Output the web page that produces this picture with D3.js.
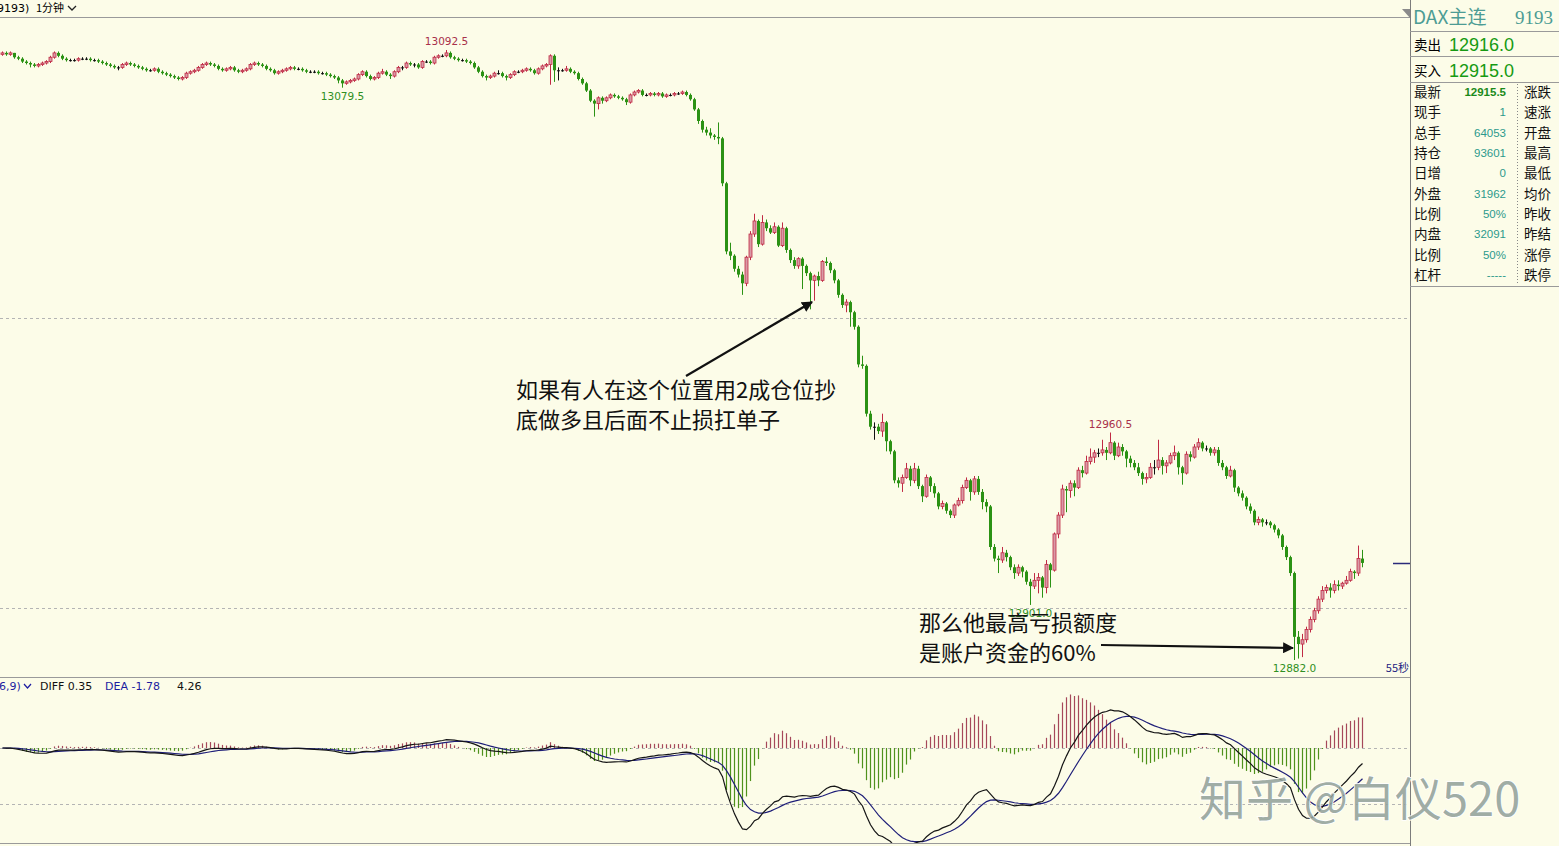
<!DOCTYPE html>
<html>
<head>
<meta charset="utf-8">
<script src="https://cdn.jsdelivr.net/npm/d3@7"></script>
<style>
body { margin: 0; background: #fcfce8; overflow: hidden; }
svg { display: block; font-family: "Noto Sans CJK SC", "DejaVu Sans", sans-serif; }
</style>
</head>
<body>
<div id="chart"></div>
<script>
// ---- data ----
var firstOpen = 13091;

var closes = [
 13091.5,13091,13091.5,13090,13089.5,13088.5,13088,13087.5,13087,13087.5,
 13088,13088.5,13090,13091.5,13090.5,13089.5,13089,13089,13089,13089.5,
 13089.5,13089.5,13089,13089,13088.5,13088,13087.5,13087,13086.5,13086.5,
 13087.5,13088,13087.5,13087,13086.5,13086,13085.5,13085.5,13086,13085,
 13084.5,13084,13083.5,13083,13082.5,13083,13084.5,13085,13085.5,13086.5,
 13087.5,13088,13087.5,13087,13086,13085.5,13086,13086.5,13085.5,13085,
 13085.5,13086,13087.5,13088,13087.5,13087,13086,13085.5,13084.5,13085,
 13085.5,13086,13086.5,13086,13086,13085.5,13085,13085,13085,13084.5,
 13084.5,13084,13083.5,13083,13082,13081,13081.5,13082,13082.5,13084,
 13085,13083.5,13082.5,13083,13084.5,13085,13084,13083.5,13085,13086.5,
 13086.5,13088,13087.5,13087.5,13086.5,13088.5,13088.5,13088,13090,13090.5,
 13090.5,13091.5,13090,13089.5,13089,13089,13088.5,13088,13086.5,13085,
 13083.5,13083,13083.5,13084.5,13084.5,13083.5,13083,13084,13085,13085,
 13085.5,13086,13085.5,13084.5,13086,13087,13087.5,13090.5,13085.5,13085.5,
 13085.5,13086,13085,13084.5,13082.5,13081,13078.5,13075,13074,13076,
 13075,13076,13077,13076.5,13076,13075.5,13074.5,13077,13078,13078.5,
 13077,13077,13077.5,13077,13077.5,13076.5,13077,13077,13077.5,13077.5,
 13078,13077,13075.5,13072,13068,13065,13064,13063,13062.5,13062,
 13046.5,13023,13021.5,13017,13015,13012,13021,13029,13033.5,13025.5,
 13033,13031,13029.5,13031.5,13025,13031,13023.5,13020,13018,13020.5,
 13018,13015.5,13013,13014.5,13013,13019.5,13019,13016.5,13013,13008,
 13004.5,13005.5,13002,12997,12984,12983.5,12967,12962.5,12962.5,12961,
 12964,12957.5,12954,12944,12943,12945,12948,12944,12948,12942,
 12938.5,12945,12942,12939.5,12935,12936,12933.5,12932,12935.5,12937,
 12941.5,12944,12940,12944.5,12940,12936.5,12935,12921,12917,12916.5,
 12919,12917.5,12914,12912,12914,12912.5,12909,12907.5,12909.5,12910.5,
 12907,12915,12913,12925.5,12932,12941,12940.5,12943,12941.5,12947.5,
 12946.5,12950.5,12952,12953.5,12953.5,12954.5,12953.5,12957,12952.5,12955.5,
 12954,12951.5,12950,12948.5,12946.5,12944.5,12945,12948.5,12948.5,12951,
 12949,12950,12952.5,12953.5,12948.5,12946.5,12953,12952,12955.5,12957,
 12955,12955,12953.5,12954.5,12950,12948.5,12945.5,12947.5,12941.5,12939.5,
 12938,12935,12933.5,12929.5,12930.5,12929.5,12929.5,12928.5,12927,12925,
 12921,12917.5,12912,12890,12887.5,12889,12892.5,12896,12899,12903,
 12906,12907,12906,12908,12907.5,12908.5,12909.5,12912.5,12912,12917,12915.5
];

var highs = [
 13092,13092,13092,13091.5,13090.5,13090,13089,13088.5,13088,13088,
 13088.5,13089,13090.5,13092,13092,13091,13090,13089.5,13089.5,13090,
 13090,13090,13090,13089.5,13089.5,13089,13088.5,13088,13087.5,13087,
 13088,13088.5,13088.5,13088,13087.5,13087,13086.5,13086,13086.5,13086.5,
 13085.5,13085,13084.5,13084,13083.5,13083.5,13085,13085.5,13086,13087,
 13088,13088.5,13088.5,13088,13087.5,13086.5,13086.5,13087,13087,13086,
 13086,13086.5,13088,13088.5,13088.5,13088,13087.5,13086.5,13086,13085.5,
 13086,13086.5,13087,13087,13086.5,13086.5,13086,13085.5,13085.5,13085.5,
 13085,13085,13084.5,13084,13083.5,13082.5,13082,13082.5,13083,13084.5,
 13085.5,13085.5,13084,13083.5,13085,13086,13085.5,13084.5,13085.5,13087,
 13087,13088.5,13088.5,13088,13088,13089,13089,13089,13090.5,13091,
 13091,13092.5,13092,13090.5,13090,13089.5,13089.5,13089,13088.5,13087,
 13085.5,13084,13084,13085,13085.5,13085,13084,13084.5,13085.5,13085.5,
 13086,13086.5,13086.5,13086,13086.5,13087.5,13088,13091,13091,13086.5,
 13086,13087,13086.5,13085.5,13085,13083,13081.5,13079,13075.5,13076.5,
 13076.5,13076.5,13077.5,13077.5,13077,13076.5,13076,13077.5,13078.5,13079,
 13079,13077.5,13078,13078,13078,13078,13077.5,13077.5,13078,13078,
 13078.5,13078.5,13077.5,13076,13072.5,13068.5,13066,13065.5,13063.5,13067.5,
 13062.5,13047,13026,13022,13018,13016,13021.5,13030,13036,13034,
 13035.5,13034,13032,13033,13032,13033,13031.5,13024,13021,13021,
 13021,13018.5,13016,13015,13016,13020,13021,13019.5,13017,13013.5,
 13008.5,13006.5,13006,13002.5,12997.5,12987,12984,12968,12964,12963.5,
 12967,12964.5,12958,12954.5,12945,12946,12950,12949,12950,12949,
 12942.5,12946,12945.5,12943,12940,12937,12936.5,12934,12936,12938,
 12942.5,12945,12944.5,12945.5,12945.5,12941,12937.5,12935.5,12922,12918,
 12921,12920,12918,12915,12915,12914.5,12913,12910,12912,12912,
 12911,12916.5,12915.5,12926,12933,12942.5,12942,12944,12944,12948.5,
 12949,12952.5,12955,12954.5,12955,12958,12955.5,12960.5,12957.5,12957,
 12956.5,12954.5,12952.5,12951,12950,12947,12946.5,12950,12951,12958,
 12952,12951,12953.5,12956,12954,12949,12954,12954,12956.5,12958.5,
 12957.5,12956,12955.5,12955.5,12955.5,12951,12949,12949,12948,12942,
 12940.5,12938.5,12936,12934,12931.5,12931,12930.5,12930,12929,12927.5,
 12925.5,12921.5,12918,12912.5,12892,12891,12893.5,12897,12900,12904,
 12907.5,12908,12908.5,12909.5,12909.5,12909,12911,12913.5,12913,12921.5,12920
];

var lows = [
 13090.5,13090.5,13090.5,13089.5,13089,13088,13087.5,13086.5,13086.5,13086.5,
 13087,13087.5,13088,13089.5,13090,13089,13088.5,13088.5,13088.5,13088.5,
 13089,13089,13088.5,13088.5,13088,13087.5,13087,13086.5,13086,13085.5,
 13086,13087,13087,13086.5,13086,13085.5,13085,13085,13085,13084.5,
 13084,13083.5,13083,13082.5,13082,13082,13082.5,13084,13084.5,13085,
 13086,13087,13087,13086.5,13085.5,13085,13085,13085.5,13085,13084.5,
 13084.5,13085,13085.5,13087,13087,13086.5,13085.5,13085,13084,13084,
 13084.5,13085,13085.5,13085.5,13085.5,13085,13084.5,13084.5,13084.5,13084,
 13084,13083.5,13083,13082.5,13081,13079.5,13080.5,13081,13081.5,13082,
 13083.5,13083,13082,13082,13082.5,13084,13083.5,13082.5,13083,13084.5,
 13085.5,13086,13087,13086.5,13086,13086,13088,13087.5,13087.5,13089.5,
 13090,13090,13089.5,13089,13088.5,13088.5,13088,13087.5,13086,13084.5,
 13083,13082,13082.5,13083,13084,13083,13082,13082.5,13083.5,13084.5,
 13084.5,13085,13085,13084,13084,13085.5,13086.5,13080.5,13081.5,13082,
 13085,13085,13084.5,13084,13082,13080.5,13078,13074.5,13069.5,13072,
 13074,13074.5,13075.5,13076,13075.5,13075,13073.5,13074,13076.5,13077.5,
 13076.5,13076.5,13076.5,13076.5,13076.5,13076,13076,13076.5,13076.5,13077,
 13077,13076.5,13075,13071.5,13067,13064,13063,13062,13061.5,13060,
 13045.5,13022,13020,13016,13014,13008,13011,13020,13028,13024.5,
 13025,13030,13029,13029,13024.5,13024.5,13022.5,13019,13017,13017,
 13010,13014.5,13003,13006,13011,13012.5,13018,13015.5,13012,13007,
 13003.5,13002,12997,12996,12983,12982.5,12966,12961.5,12958,12960,
 12959,12954,12953,12943,12941.5,12940,12944.5,12942,12943,12941,
 12936.5,12938,12940,12938,12934,12934,12932.5,12931,12931,12935,
 12936,12941,12937,12939,12939,12934,12933,12920,12916,12912,
 12915.5,12916,12913,12910,12911,12910.5,12908,12901,12906.5,12905,
 12903.5,12905,12907,12912.5,12924,12931,12933,12938,12938.5,12941,
 12945,12946,12949.5,12950,12952,12952.5,12951,12953,12951,12952,
 12952.5,12948.5,12948.5,12947.5,12945.5,12942.5,12943,12944.5,12946,12947.5,
 12946,12946.5,12949.5,12951,12946,12942.5,12946,12950.5,12951.5,12954.5,
 12954,12954,12952.5,12952.5,12949,12947.5,12944.5,12945,12940,12938.5,
 12937,12934,12932.5,12928.5,12928.5,12928,12928.5,12927.5,12926,12924,
 12920,12916.5,12911,12882,12882.5,12883,12888,12891.5,12895,12898,
 12902,12905,12903.5,12905,12906,12906.5,12908,12909,12910,12911,12914
];

// extreme labels: bar index, text, high/low
var markIdx  = [111, 85, 277, 257, 323];
var markText = ["13092.5", "13079.5", "12960.5", "12901.0", "12882.0"];
var markHigh = [true, false, true, false, false];

var gridPrices = [13000, 12900];
var macdGrid = [0, -11];
var lastPrice = 12915.5;

// MACD header values as printed
var macdHead = ["6,9)", "DIFF 0.35", "DEA -1.78", "4.26"];

// quote panel
var quoteTitle = ["DAX主连", "9193"];
var askBid = [["卖出", "12916.0"], ["买入", "12915.0"]];
var infoLeft = ["最新", "现手", "总手", "持仓", "日增", "外盘", "比例", "内盘", "比例", "杠杆"];
var infoValue = ["12915.5", "1", "64053", "93601", "0", "31962", "50%", "32091", "50%", "-----"];
var infoRight = ["涨跌", "速涨", "开盘", "最高", "最低", "均价", "昨收", "昨结", "涨停", "跌停"];

var notes1 = ["如果有人在这个位置用2成仓位抄", "底做多且后面不止损扛单子"];
var notes2 = ["那么他最高亏损额度", "是账户资金的60%"];

// ---- layout ----
var W = 1559, H = 846;
var chartRight = 1410;
var n = closes.length;

var bars = closes.map(function(c, i) {
    return {i: i, o: i ? closes[i - 1] : firstOpen, h: highs[i], l: lows[i], c: c};
});

var svg = d3.select("#chart").append("svg")
    .attr("width", W).attr("height", H);

svg.append("rect").attr("width", W).attr("height", H).attr("fill", "#fcfce8");

var x = d3.scaleBand().domain(d3.range(n)).range([0, n * 4]).paddingInner(0.3).paddingOuter(0.15);
var cx = function(i) { return Math.round(x(i) + x.bandwidth() / 2) + 0.5; };
var y = d3.scaleLinear().domain([12882, 13092.5]).range([660, 50]);

// MACD (12,26,9) from the closes
var e12 = closes[0], e26 = closes[0], dea = 0;
var macd = closes.map(function(c) {
    e12 = e12 * 11 / 13 + c * 2 / 13;
    e26 = e26 * 25 / 27 + c * 2 / 27;
    var diff = e12 - e26;
    dea = dea * 8 / 10 + diff * 2 / 10;
    return {diff: diff, dea: dea, hist: 2 * (diff - dea)};
});
var ym = d3.scaleLinear().domain([-18, 14]).range([839.8, 676.6]);

// ---- frame ----
var frame = svg.append("g").attr("stroke", "#9a9a9a").attr("stroke-width", 1);
frame.append("line").attr("x1", 0).attr("x2", chartRight).attr("y1", 17.5).attr("y2", 17.5);
frame.append("line").attr("x1", 0).attr("x2", chartRight).attr("y1", 677.5).attr("y2", 677.5);
frame.append("line").attr("x1", 0).attr("x2", chartRight).attr("y1", 843.5).attr("y2", 843.5);
frame.append("line").attr("x1", chartRight + 0.5).attr("x2", chartRight + 0.5)
    .attr("y1", 0).attr("y2", H).attr("stroke", "#7c7c7c");

// dashed grid
svg.selectAll("line.pgrid").data(gridPrices).enter().append("line")
    .attr("class", "pgrid")
    .attr("x1", 0).attr("x2", chartRight)
    .attr("y1", function(d) { return Math.round(y(d)) + 0.5; })
    .attr("y2", function(d) { return Math.round(y(d)) + 0.5; })
    .attr("stroke", "#b4b4b4").attr("stroke-dasharray", "3,3");
svg.selectAll("line.mgrid").data(macdGrid).enter().append("line")
    .attr("class", "mgrid")
    .attr("x1", 0).attr("x2", chartRight)
    .attr("y1", function(d) { return Math.round(ym(d)) + 0.5; })
    .attr("y2", function(d) { return Math.round(ym(d)) + 0.5; })
    .attr("stroke", "#b4b4b4").attr("stroke-dasharray", "3,3");

// header
var head = svg.append("g").attr("font-family", "'DejaVu Sans', sans-serif").attr("font-size", 11);
head.append("text").attr("x", -3).attr("y", 12).text("9193)");
head.append("text").attr("x", 36).attr("y", 12)
    .attr("font-family", "'Noto Sans CJK SC', sans-serif").text("1分钟");
head.append("path").attr("d", "M68,6 L72,10 L76,6").attr("fill", "none").attr("stroke", "#222").attr("stroke-width", 1.3);

// ---- candles ----
function candleColor(d) {
    if (d.c > d.o) return "#c02a44";
    if (d.c < d.o) return "#2b9214";
    return "#111";
}

var candles = svg.append("g").selectAll("g.candle").data(bars).enter().append("g")
    .attr("class", "candle");

candles.append("line")
    .attr("x1", function(d) { return cx(d.i); }).attr("x2", function(d) { return cx(d.i); })
    .attr("y1", function(d) { return y(d.h); }).attr("y2", function(d) { return y(d.l); })
    .attr("stroke", candleColor).attr("stroke-width", 1);

candles.append("rect")
    .attr("x", function(d) { return cx(d.i) - 1.5; })
    .attr("width", 3)
    .attr("y", function(d) { return y(Math.max(d.o, d.c)); })
    .attr("height", function(d) { return Math.max(1, Math.abs(y(d.o) - y(d.c))); })
    .attr("fill", function(d) { return d.c > d.o ? "#d99aa6" : candleColor(d); })
    .attr("stroke", candleColor).attr("stroke-width", function(d) { return d.c > d.o ? 0.8 : 0; });

// high / low labels
svg.append("g").selectAll("text").data(markIdx).enter().append("text")
    .attr("x", function(d) { return cx(d); })
    .attr("y", function(d, k) { return markHigh[k] ? y(highs[d]) - 5 : y(lows[d]) + 12; })
    .attr("text-anchor", "middle")
    .attr("font-family", "'DejaVu Sans', sans-serif").attr("font-size", 10.5)
    .attr("fill", function(d, k) { return markHigh[k] ? "#a8304a" : "#2f8f22"; })
    .text(function(d, k) { return markText[k]; });

// last price marker
svg.append("line").attr("x1", 1393).attr("x2", chartRight)
    .attr("y1", Math.round(y(lastPrice)) + 0.5).attr("y2", Math.round(y(lastPrice)) + 0.5)
    .attr("stroke", "#2a2a7a").attr("stroke-width", 1.5);

svg.append("text").attr("x", 1409).attr("y", 672).attr("text-anchor", "end")
    .attr("font-size", 11).attr("fill", "#1c1c80").text("55秒");

// ---- MACD ----
var mg = svg.append("g");
mg.append("clipPath").attr("id", "mclip").append("rect")
    .attr("x", 0).attr("y", 678).attr("width", chartRight).attr("height", 165);
var mbody = mg.append("g").attr("clip-path", "url(#mclip)");

mbody.selectAll("line.hist").data(macd).enter().append("line")
    .attr("class", "hist")
    .attr("x1", function(d, i) { return cx(i); }).attr("x2", function(d, i) { return cx(i); })
    .attr("y1", ym(0)).attr("y2", function(d) { return ym(d.hist); })
    .attr("stroke", function(d) { return d.hist >= 0 ? "#a6485a" : "#4f921c"; })
    .attr("stroke-width", 1.2);

var diffLine = d3.line().x(function(d, i) { return cx(i); }).y(function(d) { return ym(d.diff); });
var deaLine = d3.line().x(function(d, i) { return cx(i); }).y(function(d) { return ym(d.dea); });
mbody.append("path").attr("d", deaLine(macd)).attr("fill", "none").attr("stroke", "#1e1e78").attr("stroke-width", 1.2);
mbody.append("path").attr("d", diffLine(macd)).attr("fill", "none").attr("stroke", "#151515").attr("stroke-width", 1.2);

var mh = svg.append("g").attr("font-family", "'DejaVu Sans', sans-serif").attr("font-size", 11);
mh.append("text").attr("x", -1).attr("y", 690).attr("fill", "#1c1ca0").text(macdHead[0]);
mh.append("path").attr("d", "M24,684 L27.5,688 L31,684").attr("fill", "none").attr("stroke", "#1c1ca0").attr("stroke-width", 1.2);
mh.append("text").attr("x", 40).attr("y", 690).attr("fill", "#111").text(macdHead[1]);
mh.append("text").attr("x", 105).attr("y", 690).attr("fill", "#1c1ca0").text(macdHead[2]);
mh.append("text").attr("x", 177).attr("y", 690).attr("fill", "#111").text(macdHead[3]);

// ---- annotations ----
svg.append("defs").append("marker")
    .attr("id", "arr").attr("viewBox", "0 0 10 10").attr("refX", 9).attr("refY", 5)
    .attr("markerWidth", 5).attr("markerHeight", 5).attr("orient", "auto")
    .append("path").attr("d", "M0,0 L10,5 L0,10 z").attr("fill", "#111");

svg.append("line").attr("x1", 686).attr("y1", 376).attr("x2", 812).attr("y2", 302)
    .attr("stroke", "#111").attr("stroke-width", 2.2).attr("marker-end", "url(#arr)");
svg.append("line").attr("x1", 1101).attr("y1", 645).attr("x2", 1293).attr("y2", 648)
    .attr("stroke", "#111").attr("stroke-width", 2.2).attr("marker-end", "url(#arr)");

svg.append("g").selectAll("text").data(notes1).enter().append("text")
    .attr("x", 516).attr("y", function(d, k) { return 398 + k * 30; })
    .attr("font-size", 22).attr("fill", "#111").text(function(d) { return d; });
svg.append("g").selectAll("text").data(notes2).enter().append("text")
    .attr("x", 919).attr("y", function(d, k) { return 631 + k * 30; })
    .attr("font-size", 22).attr("fill", "#111").text(function(d) { return d; });

// ---- quote panel ----
var qp = svg.append("g");
qp.append("path").attr("d", "M1402,9 L1410,9 L1410,18 z").attr("fill", "#8a8a8a");
qp.append("text").attr("x", 1413).attr("y", 24).attr("font-size", 19).attr("fill", "#4d9c94").text(quoteTitle[0]);
qp.append("text").attr("x", 1515).attr("y", 24).attr("font-size", 19)
    .attr("font-family", "'Liberation Serif', serif").attr("fill", "#4d9c94").text(quoteTitle[1]);

[31.5, 56.5, 82.5, 286.5].forEach(function(yy) {
    qp.append("line").attr("x1", chartRight).attr("x2", W).attr("y1", yy).attr("y2", yy)
        .attr("stroke", "#9a9a9a");
});

askBid.forEach(function(r, k) {
    var by = 50 + k * 26;
    qp.append("text").attr("x", 1414).attr("y", by).attr("font-size", 13.5).text(r[0]);
    qp.append("text").attr("x", 1449).attr("y", by + 1).attr("font-size", 18)
        .attr("font-family", "'Liberation Sans', sans-serif").attr("fill", "#169a12").text(r[1]);
});

var rowY = d3.scaleLinear().domain([0, 9]).range([97, 280]);
qp.selectAll("text.il").data(infoLeft).enter().append("text").attr("class", "il")
    .attr("x", 1414).attr("y", function(d, k) { return rowY(k); })
    .attr("font-size", 13.5).attr("fill", "#111").text(function(d) { return d; });
qp.selectAll("text.iv").data(infoValue).enter().append("text").attr("class", "iv")
    .attr("x", 1506).attr("y", function(d, k) { return rowY(k) - 1; })
    .attr("text-anchor", "end")
    .attr("font-family", "'Liberation Sans', sans-serif")
    .attr("font-size", 11.5)
    .attr("font-weight", function(d, k) { return k === 0 ? "bold" : "normal"; })
    .attr("fill", function(d, k) { return k === 0 ? "#1a8a1a" : "#2c9a8c"; })
    .text(function(d) { return d; });
qp.selectAll("text.ir").data(infoRight).enter().append("text").attr("class", "ir")
    .attr("x", 1524).attr("y", function(d, k) { return rowY(k); })
    .attr("font-size", 13.5).attr("fill", "#111").text(function(d) { return d; });
qp.append("line").attr("x1", 1517.5).attr("x2", 1517.5).attr("y1", 84).attr("y2", 285)
    .attr("stroke", "#888").attr("stroke-dasharray", "1,2");

// ---- watermark ----
svg.append("text").attr("x", 1199).attr("y", 816)
    .attr("font-size", 47).attr("font-weight", 400)
    .attr("fill", "#8f9f98").attr("fill-opacity", 0.85)
    .attr("stroke", "#ffffff").attr("stroke-width", 1.5).attr("paint-order", "stroke")
    .text("知乎 @白仪520");
</script>
</body>
</html>
